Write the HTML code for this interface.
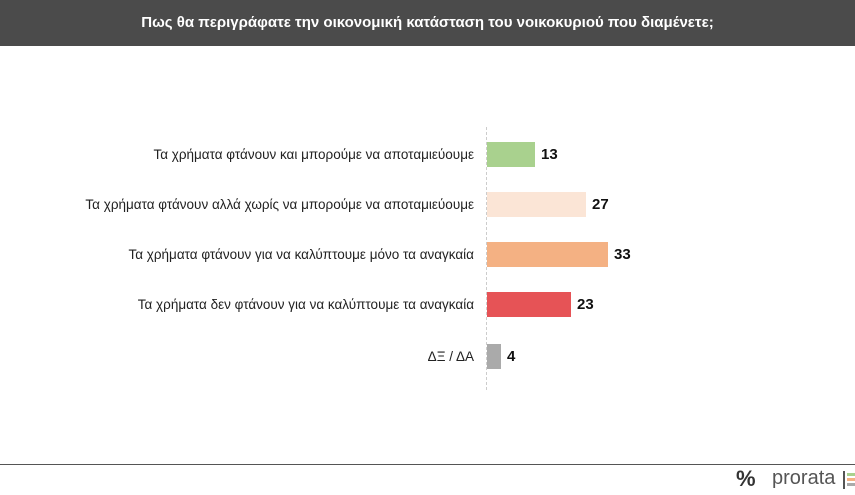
<!DOCTYPE html>
<html><head><meta charset="utf-8"><style>
body{margin:0;width:855px;height:495px;background:#fff;font-family:"Liberation Sans",sans-serif;position:relative;overflow:hidden}
.hdr{position:absolute;left:0;top:0;width:855px;height:46px;background:#4b4b4b;color:#fff;font-weight:bold;font-size:15px;text-align:center;line-height:46px}
.lab{position:absolute;right:381px;font-size:13.5px;color:#222;white-space:nowrap;line-height:25px}
.bar{position:absolute;left:487px;height:25px}
.val{position:absolute;font-weight:bold;font-size:15px;color:#111;line-height:25px}
.axis{position:absolute;left:486px;top:127px;height:263px;border-left:1px dashed #ccc}
.foot{position:absolute;left:0;top:464px;width:855px;border-top:1px solid #555}
</style></head><body>
<div class="hdr">Πως θα περιγράφατε την οικονομική κατάσταση του νοικοκυριού που διαμένετε;</div>
<div class="axis"></div>
<div class="lab" style="top:142px">Τα χρήματα φτάνουν και μπορούμε να αποταμιεύουμε</div>
<div class="lab" style="top:192px">Τα χρήματα φτάνουν αλλά χωρίς να μπορούμε να αποταμιεύουμε</div>
<div class="lab" style="top:242px">Τα χρήματα φτάνουν για να καλύπτουμε μόνο τα αναγκαία</div>
<div class="lab" style="top:292px">Τα χρήματα δεν φτάνουν για να καλύπτουμε τα αναγκαία</div>
<div class="lab" style="top:344px">ΔΞ / ΔΑ</div>
<div class="bar" style="top:142px;width:48px;background:#a9d18e"></div>
<div class="bar" style="top:192px;width:99px;background:#fbe5d6"></div>
<div class="bar" style="top:242px;width:121px;background:#f4b183"></div>
<div class="bar" style="top:292px;width:84px;background:#e65356"></div>
<div class="bar" style="top:344px;width:14px;background:#aaa"></div>
<div class="val" style="top:142px;left:541px">13</div>
<div class="val" style="top:192px;left:592px">27</div>
<div class="val" style="top:242px;left:614px">33</div>
<div class="val" style="top:292px;left:577px">23</div>
<div class="val" style="top:344px;left:507px">4</div>
<div class="foot"></div>
<div style="position:absolute;left:736px;top:466px;font-size:22px;color:#333;font-weight:bold">%</div>
<div style="position:absolute;left:772px;top:467px;font-size:20px;color:#555">prorata</div>
<div style="position:absolute;left:843px;top:471px;width:2px;height:18px;background:#555"></div>
<div style="position:absolute;left:847px;top:473px;width:8px;height:3px;background:#a9d18e"></div>
<div style="position:absolute;left:847px;top:478px;width:8px;height:3px;background:#f4b183"></div>
<div style="position:absolute;left:847px;top:483px;width:8px;height:3px;background:#aaa"></div>
</body></html>
